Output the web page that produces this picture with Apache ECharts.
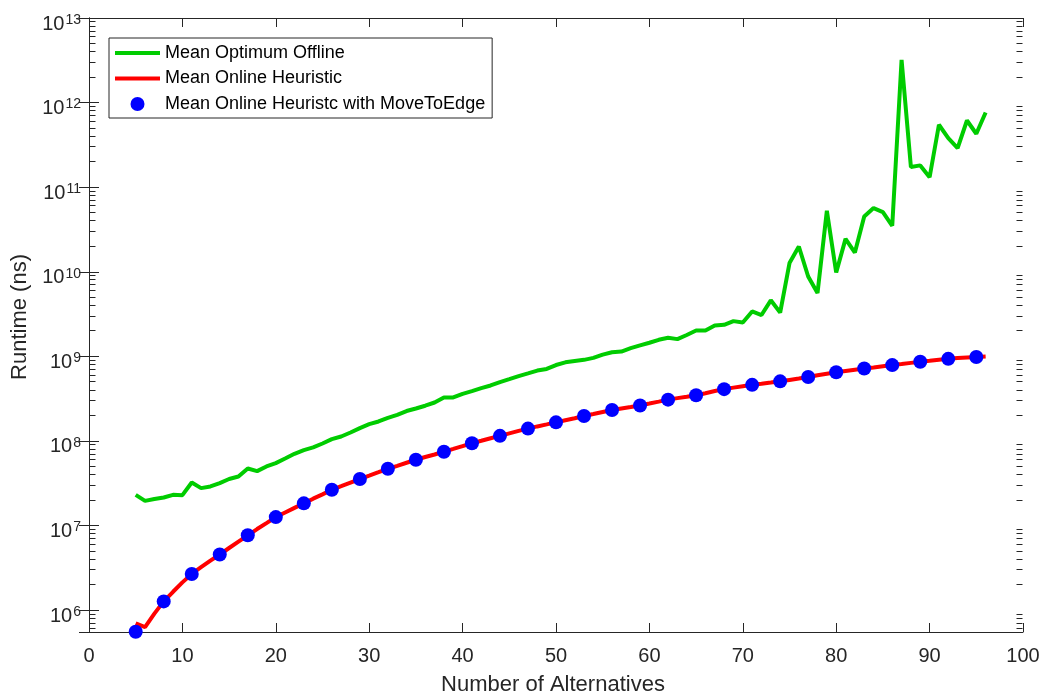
<!DOCTYPE html>
<html>
<head>
<meta charset="utf-8">
<script src="https://cdn.jsdelivr.net/npm/echarts@6/dist/echarts.min.js"></script>
<style>
  html, body { margin: 0; padding: 0; background: #ffffff; }
  #chart { width: 1043px; height: 697px; }
</style>
</head>
<body>
<div id="chart"></div>
<script>
// Number of alternatives on the x axis
const alternatives = [
  5, 6, 7, 8, 9, 10, 11, 12, 13, 14, 15, 16, 17, 18, 19, 20, 21, 22, 23, 24, 25,
  26, 27, 28, 29, 30, 31, 32, 33, 34, 35, 36, 37, 38, 39, 40, 41, 42, 43, 44, 45,
  46, 47, 48, 49, 50, 51, 52, 53, 54, 55, 56, 57, 58, 59, 60, 61, 62, 63, 64, 65,
  66, 67, 68, 69, 70, 71, 72, 73, 74, 75, 76, 77, 78, 79, 80, 81, 82, 83, 84, 85,
  86, 87, 88, 89, 90, 91, 92, 93, 94, 95, 96
];

// Mean runtime (ns) of the optimum offline solver
const optimumOffline = [
  2.31e7, 1.96e7, 2.06e7, 2.15e7, 2.31e7, 2.29e7, 3.23e7, 2.77e7, 2.90e7, 3.18e7,
  3.55e7, 3.80e7, 4.73e7, 4.40e7, 5.00e7, 5.48e7, 6.20e7, 7.06e7, 7.80e7, 8.40e7,
  9.34e7, 1.05e8, 1.13e8, 1.26e8, 1.42e8, 1.58e8, 1.70e8, 1.88e8, 2.04e8, 2.26e8,
  2.42e8, 2.61e8, 2.85e8, 3.27e8, 3.27e8, 3.61e8, 3.89e8, 4.22e8, 4.53e8, 4.97e8,
  5.39e8, 5.85e8, 6.30e8, 6.80e8, 7.10e8, 7.90e8, 8.50e8, 8.80e8, 9.10e8, 9.60e8,
  1.05e9, 1.12e9, 1.14e9, 1.25e9, 1.35e9, 1.45e9, 1.57e9, 1.66e9, 1.60e9, 1.79e9,
  2.02e9, 2.02e9, 2.32e9, 2.36e9, 2.61e9, 2.52e9, 3.40e9, 3.08e9, 4.60e9, 3.30e9,
  1.27e10, 1.99e10, 8.80e9, 5.60e9, 5.26e10, 9.80e9, 2.45e10, 1.69e10, 4.50e10, 5.66e10,
  5.08e10, 3.50e10, 3.20e12, 1.73e11, 1.81e11, 1.31e11, 5.47e11, 3.80e11, 2.90e11, 6.14e11,
  4.28e11, 7.64e11
];

// Mean runtime (ns) of the online heuristic
const onlineHeuristic = [
  7.0e5, 6.3e5, 9.1e5, 1.27e6, 1.65e6, 2.13e6, 2.68e6, 3.22e6, 3.85e6, 4.55e6,
  5.43e6, 6.46e6, 7.67e6, 9.1e6, 1.07e7, 1.26e7, 1.43e7, 1.62e7, 1.83e7, 2.08e7,
  2.34e7, 2.65e7, 2.92e7, 3.22e7, 3.55e7, 3.89e7, 4.27e7, 4.69e7, 5.09e7, 5.53e7,
  6.00e7, 6.46e7, 6.92e7, 7.45e7, 8.05e7, 8.71e7, 9.40e7, 1.005e8, 1.076e8, 1.15e8,
  1.23e8, 1.315e8, 1.40e8, 1.486e8, 1.57e8, 1.66e8, 1.76e8, 1.86e8, 1.97e8, 2.08e8,
  2.20e8, 2.32e8, 2.42e8, 2.52e8, 2.63e8, 2.77e8, 2.92e8, 3.08e8, 3.21e8, 3.33e8,
  3.47e8, 3.67e8, 3.89e8, 4.10e8, 4.27e8, 4.44e8, 4.61e8, 4.75e8, 4.90e8, 5.07e8,
  5.27e8, 5.48e8, 5.70e8, 5.97e8, 6.24e8, 6.50e8, 6.73e8, 6.97e8, 7.19e8, 7.41e8,
  7.66e8, 7.89e8, 8.13e8, 8.38e8, 8.63e8, 8.87e8, 9.12e8, 9.35e8, 9.55e8, 9.73e8,
  9.84e8, 9.98e8
];

// Online heuristic with MoveToEdge, sampled every third size
const moveToEdgeX = [
  5, 8, 11, 14, 17, 20, 23, 26, 29, 32, 35, 38, 41, 44, 47, 50,
  53, 56, 59, 62, 65, 68, 71, 74, 77, 80, 83, 86, 89, 92, 95
];
const moveToEdge = [
  5.55e5, 1.27e6, 2.68e6, 4.55e6, 7.67e6, 1.26e7, 1.83e7, 2.65e7, 3.55e7, 4.69e7,
  6.00e7, 7.45e7, 9.40e7, 1.15e8, 1.40e8, 1.66e8, 1.97e8, 2.32e8, 2.63e8, 3.08e8,
  3.47e8, 4.10e8, 4.61e8, 5.07e8, 5.70e8, 6.50e8, 7.19e8, 7.89e8, 8.63e8, 9.35e8,
  9.84e8
];

const seriesNames = [
  'Mean Optimum Offline',
  'Mean Online Heuristic',
  'Mean Online Heuristc with MoveToEdge'
];

// Axis ranges
const xMin = 0, xMax = 100, xStep = 10;
const yMin = 5.52e5, yMax = 1e13;

// Minor ticks of the log axis: 2..9 x 10^k inside the range
const minorTicks = [];
for (let k = 5; k <= 12; k++) {
  for (let m = 2; m <= 9; m++) {
    const v = m * Math.pow(10, k);
    if (v > yMin && v < yMax) minorTicks.push(v);
  }
}

const FONT = '"Liberation Sans", Arial, Helvetica, sans-serif';
const INK = '#262626';
const LINE_ICON = 'path://M0,0L45,0L45,4L0,4Z';

function pairs(xs, ys) {
  return xs.map((x, i) => [x, ys[i]]);
}

// 10^k labels with a raised exponent; other ticks stay blank
function powerLabel(v) {
  const e = Math.log10(v);
  const r = Math.round(e);
  if (Math.abs(e - r) > 1e-6) return '';
  return '{b|10}{s|' + r + '}';
}

const chart = echarts.init(document.getElementById('chart'), null, { renderer: 'canvas' });

chart.setOption({
  animation: false,
  backgroundColor: '#ffffff',
  grid: {
    left: 89, right: 20, top: 18, bottom: 65,
    containLabel: false,
    outerBoundsMode: 'none'
  },
  legend: {
    orient: 'vertical',
    left: 109,
    top: 38,
    padding: [5, 7, 4, 6],
    itemGap: 5.5,
    itemWidth: 45,
    itemHeight: 14,
    backgroundColor: '#ffffff',
    borderColor: INK,
    borderWidth: 1,
    borderRadius: 0,
    itemStyle: { borderWidth: 0 },
    textStyle: { fontFamily: FONT, fontSize: 18, lineHeight: 20, color: '#000000' },
    data: [
      { name: seriesNames[0], icon: LINE_ICON },
      { name: seriesNames[1], icon: LINE_ICON },
      { name: seriesNames[2], icon: 'circle' }
    ]
  },
  xAxis: [
    {
      type: 'value',
      min: xMin, max: xMax, interval: xStep,
      name: 'Number of Alternatives',
      nameLocation: 'middle',
      nameGap: 42,
      nameTextStyle: { fontFamily: FONT, fontSize: 22, color: INK, padding: [0, 6, 0, 0] },
      axisLine: { show: true, lineStyle: { color: INK, width: 1 } },
      axisTick: { show: true, inside: true, length: 9, lineStyle: { color: INK, width: 1 } },
      axisLabel: { fontFamily: FONT, fontSize: 20, color: INK, margin: 14 },
      splitLine: { show: false }
    },
    {
      type: 'value',
      position: 'top',
      min: xMin, max: xMax, interval: xStep,
      axisLine: { show: true, lineStyle: { color: INK, width: 1 } },
      axisTick: { show: true, inside: true, length: 9, lineStyle: { color: INK, width: 1 } },
      axisLabel: { show: false },
      splitLine: { show: false }
    }
  ],
  yAxis: [
    {
      type: 'log',
      logBase: 10,
      min: yMin, max: yMax,
      name: 'Runtime (ns)',
      nameLocation: 'middle',
      nameGap: 55,
      nameTextStyle: { fontFamily: FONT, fontSize: 22, color: INK, padding: [0, 0, 0, 16] },
      axisLine: { show: true, lineStyle: { color: INK, width: 1 } },
      axisTick: { show: true, inside: true, length: 10, lineStyle: { color: INK, width: 1 } },
      axisLabel: {
        formatter: powerLabel,
        margin: 8,
        color: INK,
        rich: {
          b: { fontFamily: FONT, fontSize: 20, lineHeight: 20, color: INK, padding: [12, 0, 0, 0] },
          s: { fontFamily: FONT, fontSize: 14, lineHeight: 16, color: INK, verticalAlign: 'top', padding: [5, 0, 0, 1] }
        }
      },
      splitLine: { show: false }
    },
    {
      type: 'log',
      logBase: 10,
      position: 'right',
      min: yMin, max: yMax,
      axisLine: { show: true, lineStyle: { color: INK, width: 1 } },
      axisTick: { show: true, inside: true, length: 10, lineStyle: { color: INK, width: 1 } },
      axisLabel: { show: false },
      splitLine: { show: false }
    }
  ],
  series: [
    {
      // minor ticks of the log axis, on both vertical edges of the box
      type: 'custom',
      silent: true,
      coordinateSystem: 'cartesian2d',
      xAxisIndex: 0,
      yAxisIndex: 0,
      clip: false,
      z: 1,
      data: minorTicks.map(v => [xMin, v]),
      encode: { x: 0, y: 1 },
      renderItem: function (params, api) {
        const cs = params.coordSys;
        const p = api.coord([xMin, api.value(1)]);
        const y = Math.round(p[1] - 0.5) + 0.5;
        const left = Math.round(cs.x) + 0.5;
        const right = Math.round(cs.x + cs.width) - 0.5;
        const style = { stroke: INK, lineWidth: 1 };
        return {
          type: 'group',
          children: [
            { type: 'line', shape: { x1: left, y1: y, x2: left + 6, y2: y }, style: style },
            { type: 'line', shape: { x1: right - 6, y1: y, x2: right, y2: y }, style: style }
          ]
        };
      }
    },
    {
      name: seriesNames[0],
      type: 'line',
      xAxisIndex: 0,
      yAxisIndex: 0,
      data: pairs(alternatives, optimumOffline),
      symbol: 'none',
      showSymbol: false,
      color: '#00cc00',
      lineStyle: { color: '#00cc00', width: 4 },
      z: 2
    },
    {
      name: seriesNames[1],
      type: 'line',
      xAxisIndex: 0,
      yAxisIndex: 0,
      data: pairs(alternatives, onlineHeuristic),
      symbol: 'none',
      showSymbol: false,
      color: '#ff0000',
      lineStyle: { color: '#ff0000', width: 4 },
      z: 3
    },
    {
      name: seriesNames[2],
      type: 'scatter',
      xAxisIndex: 0,
      yAxisIndex: 0,
      data: pairs(moveToEdgeX, moveToEdge),
      symbol: 'circle',
      symbolSize: 14,
      color: '#0000ff',
      itemStyle: { color: '#0000ff', opacity: 1 },
      z: 4
    }
  ]
});
</script>
</body>
</html>
